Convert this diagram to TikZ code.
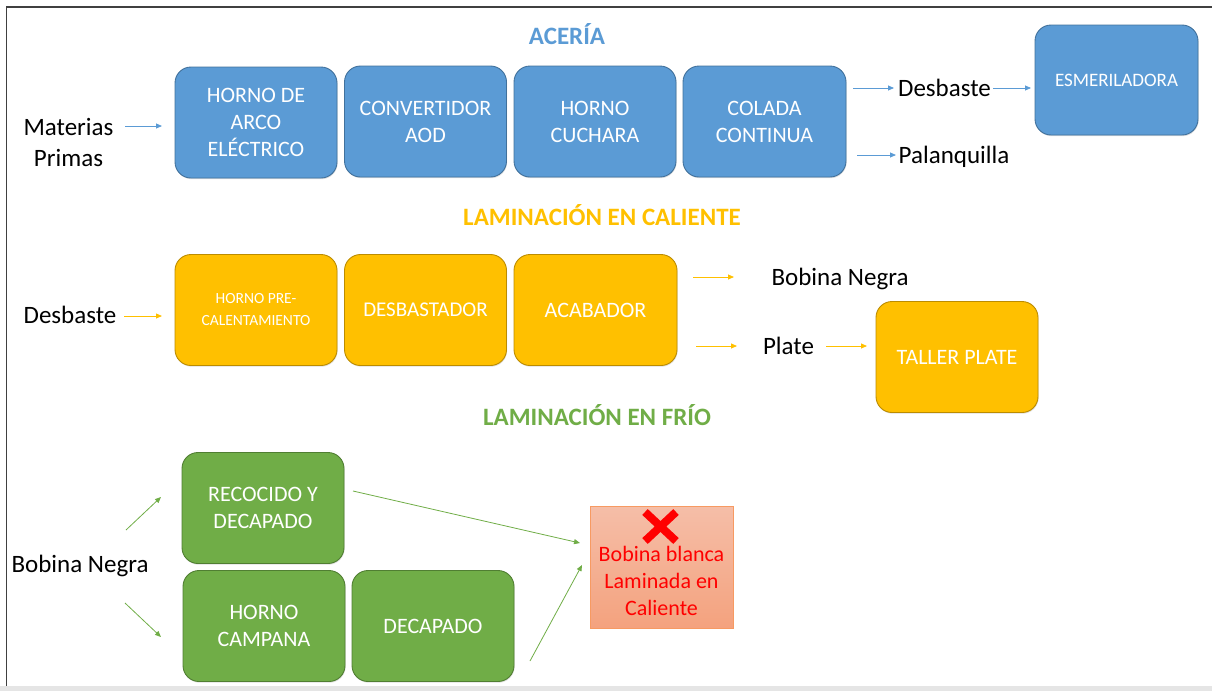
\documentclass[tikz,border=0pt]{standalone}
\usepackage{fontspec}
\setmainfont{Carlito}
\usetikzlibrary{arrows.meta,shadows}
\definecolor{oblue}{HTML}{5B9BD5}
\definecolor{obluedk}{HTML}{41719C}
\definecolor{oyel}{HTML}{FFC000}
\definecolor{oyeldk}{HTML}{BC8C00}
\definecolor{ogrn}{HTML}{70AD47}
\definecolor{ogrndk}{HTML}{507E32}
\definecolor{salmtop}{HTML}{F5BEA8}
\definecolor{salmbot}{HTML}{F4A27E}
\definecolor{salmdraw}{HTML}{F79A62}
\begin{document}
\begin{tikzpicture}[x=1pt,y=-1pt,
 pbox/.style={rounded corners=16pt, minimum width=162pt, minimum height=111pt, align=center, text=white,
   font=\fontsize{22}{27}\selectfont, line width=0.9pt, inner sep=0pt,
   drop shadow={shadow xshift=0.6pt, shadow yshift=-1.2pt, opacity=0.25}},
 bbox/.style={pbox, fill=oblue, draw=obluedk},
 ybox/.style={pbox, fill=oyel, draw=oyeldk},
 gbox/.style={pbox, fill=ogrn, draw=ogrndk},
 lbl/.style={font=\fontsize{25}{31}\selectfont, inner sep=0pt, anchor=base, text=black},
 ttl/.style={font=\bfseries\fontsize{25}{30}\selectfont, inner sep=0pt, anchor=base},
 arr/.style={line width=0.8pt, -{Triangle[length=6pt,width=5pt]}},
]
\useasboundingbox (0,0) rectangle (1212,691);
% frame
\fill[black!10] (0,686) rectangle (1212,691);
\draw[line width=1.4pt, black!75] (6.5,686) -- (6.5,7) -- (1212,7);

% ---------- ACERIA ----------
\node[ttl, text=oblue] (t1) at (567,44) {ACERÍA};
\node[lbl, anchor=center, align=center] (mp) at (68.5,142.5) {Materias\\Primas};
\node[bbox] (b1) at (256,122.5) {HORNO DE\\ARCO\\ELÉCTRICO};
\node[bbox] (b2) at (425.5,121.5) {CONVERTIDOR\\AOD};
\node[bbox] (b3) at (595,121.5) {HORNO\\CUCHARA};
\node[bbox, minimum width=163pt] (b4) at (764.5,121.5) {COLADA\\CONTINUA};
\node[bbox, minimum width=163pt, minimum height=110pt, font=\fontsize{19}{23}\selectfont] (esm) at (1116.5,80) {ESMERILADORA};
\node[lbl] (desb1) at (944.5,96) {Desbaste};
\node[lbl] (pal) at (954,163) {Palanquilla};

\coordinate (a1s) at (125,126);   \coordinate (a1e) at (162,126);
\coordinate (a2s) at (853,88);    \coordinate (a2e) at (894,88);
\coordinate (a3s) at (993,88);    \coordinate (a3e) at (1031,88);
\coordinate (a4s) at (857,155);   \coordinate (a4e) at (896,155);
\draw[arr, oblue] (a1s) -- (a1e);
\draw[arr, oblue] (a2s) -- (a2e);
\draw[arr, oblue] (a3s) -- (a3e);
\draw[arr, oblue] (a4s) -- (a4e);

% ---------- LAMINACION EN CALIENTE ----------
\node[ttl, text=oyel] (t2) at (602,225) {LAMINACIÓN EN CALIENTE};
\node[lbl] (desb2) at (70,323) {Desbaste};
\node[ybox, font=\fontsize{15.5}{22}\selectfont] (y1) at (256,310) {HORNO PRE-\\CALENTAMIENTO};
\node[ybox, font=\fontsize{21}{27}\selectfont] (y2) at (425.5,310) {DESBASTADOR};
\node[ybox, minimum width=163pt] (y3) at (595.5,310) {ACABADOR};
\node[ybox] (tp) at (957,357) {TALLER PLATE};
\node[lbl] (bn1) at (840,285) {Bobina Negra};
\node[lbl] (pl) at (788.5,354) {Plate};

\coordinate (c1s) at (124,316);   \coordinate (c1e) at (162,316);
\coordinate (c2s) at (693,277);   \coordinate (c2e) at (734,277);
\coordinate (c3s) at (696,346);   \coordinate (c3e) at (737,346);
\coordinate (c4s) at (826,346);   \coordinate (c4e) at (867,346);
\draw[arr, oyel] (c1s) -- (c1e);
\draw[arr, oyel] (c2s) -- (c2e);
\draw[arr, oyel] (c3s) -- (c3e);
\draw[arr, oyel] (c4s) -- (c4e);

% ---------- LAMINACION EN FRIO ----------
\node[ttl, text=ogrn] (t3) at (597,425) {LAMINACIÓN EN FRÍO};
\node[lbl] (bn2) at (80,572) {Bobina Negra};
\node[gbox] (g1) at (263,508) {RECOCIDO Y\\DECAPADO};
\node[gbox] (g2) at (264,626) {HORNO\\CAMPANA};
\node[gbox] (g3) at (433,626) {DECAPADO};
\node[draw=salmdraw, line width=0.9pt, top color=salmtop, bottom color=salmbot,
      minimum width=143pt, minimum height=122pt, inner sep=0pt] (wb) at (661.5,567) {};
\node[align=center, text=red, font=\fontsize{22}{27}\selectfont, inner sep=0pt] (wbt) at (661.5,581) {Bobina blanca\\Laminada en\\Caliente};
\draw[red, line width=8pt] (645,512) -- (676,541) (645,541) -- (676,512);

\coordinate (d1s) at (126,530);   \coordinate (d1e) at (161,497);
\coordinate (d2s) at (125,603);   \coordinate (d2e) at (161,637);
\coordinate (d3s) at (353,491);   \coordinate (d3e) at (580,543);
\coordinate (d4s) at (530,661);   \coordinate (d4e) at (582,565);
\draw[arr, ogrn] (d1s) -- (d1e);
\draw[arr, ogrn] (d2s) -- (d2e);
\draw[arr, ogrn] (d3s) -- (d3e);
\draw[arr, ogrn] (d4s) -- (d4e);
\end{tikzpicture}
\end{document}
